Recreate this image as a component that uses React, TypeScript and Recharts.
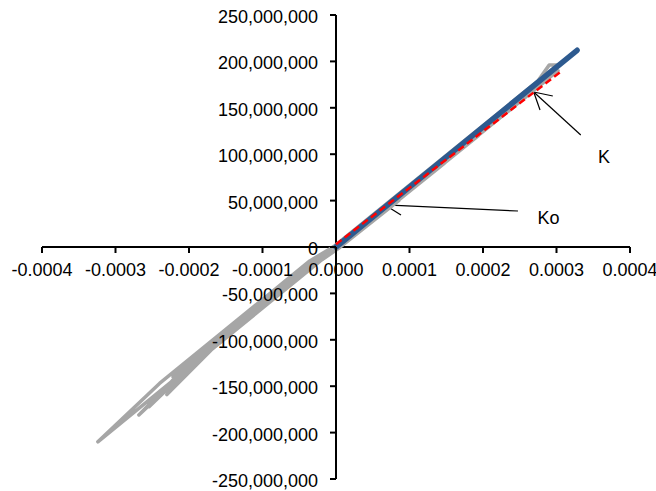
import React from 'react';
import { ScatterChart, Scatter, XAxis, YAxis, ReferenceLine, ReferenceDot } from 'recharts';

// Gray hysteresis loops (strain, stress)
const grayStrain = [
  0,
  0.000006, 0.0000854, 0.0000754, -0.000004, -0.0000352, -0.0000662, -0.0000814, -0.0000522, -0.0000212,
  0.000006, 0.0001473, 0.0001373, -0.000004, -0.0000327, -0.000107, -0.0001443, -0.0000985, -0.0000242,
  0.000006, 0.0001938, 0.0001838, -0.000004, -0.0000302, -0.000137, -0.0001888, -0.000129, -0.0000222,
  0.000006, 0.0002402, 0.0002302, -0.000004, -0.0000342, -0.0001627, -0.0002217, -0.0001537, -0.0000252,
  0.000006, 0.0002634, 0.0002534, -0.000004, -0.0000312, -0.0001798, -0.0002301, -0.0001698, -0.0000212,
  0.000006, 0.0002835, 0.0002735, -0.000004, -0.0000332, -0.0001958, -0.0002543, -0.0001858, -0.0000232,
  0.000006, 0.0003021, 0.0002921, -0.000004, -0.0000282, -0.0002016, -0.0002682, -0.0001956, -0.0000222,
  0.000006, 0.000301, 0.00029, 0.000272, -0.000004, -0.0000357, -0.0002401, -0.000324, -0.0002266, -0.0000222,
  0.000006,
];
const grayStress = [
  0,
  0, 50e6, 50e6, 0, -15e6, -35e6, -50e6, -35e6, -15e6,
  0, 90e6, 90e6, 0, -15e6, -63e6, -90e6, -63e6, -15e6,
  0, 120e6, 120e6, 0, -15e6, -84e6, -120e6, -84e6, -15e6,
  0, 150e6, 150e6, 0, -15e6, -98e6, -140e6, -98e6, -15e6,
  0, 165e6, 165e6, 0, -15e6, -111e6, -159e6, -111e6, -15e6,
  0, 178e6, 178e6, 0, -15e6, -120e6, -172e6, -120e6, -15e6,
  0, 190e6, 190e6, 0, -15e6, -127e6, -181e6, -127e6, -15e6,
  0, 196e6, 196e6, 176e6, 0, -15e6, -147e6, -210e6, -147e6, -15e6,
  0,
];

// K (secant stiffness) line
const kStrain = [0, 0.000328];
const kStress = [0, 212e6];

// Ko (initial stiffness) line
const koStrain = [0, 0.000306];
const koStress = [3e6, 189e6];

// Axis ticks
const xTicks = [-0.0004, -0.0003, -0.0002, -0.0001, 0, 0.0001, 0.0002, 0.0003, 0.0004];
const yTicks = [250e6, 200e6, 150e6, 100e6, 50e6, 0, -50e6, -100e6, -150e6, -200e6, -250e6];

// Annotations: label text, label position, arrow tail, arrow tip, barbs
const annLabels = ['Ko', 'K'];
const annLabelX = [0.000289, 0.0003646];
const annLabelY = [32e6, 97e6];
const arrowTailX = [0.0002476, 0.000333];
const arrowTailY = [38.8e6, 120.7e6];
const arrowTipX = [0.0000667, 0.000269];
const arrowTipY = [45.3e6, 167e6];
const barb1X = [0.0000884, 0.000295];
const barb1Y = [53.9e6, 162.7e6];
const barb2X = [0.0000884, 0.0002776];
const barb2Y = [34.5e6, 147.6e6];

const FONT = '"Liberation Sans", Arial, sans-serif';

const toPts = (xs: number[], ys: number[]) => xs.map((x, i) => ({ x, y: ys[i] }));
const grayData = toPts(grayStrain, grayStress);
const kData = toPts(kStrain, kStress);
const koData = toPts(koStrain, koStress);

const fmtX = (v: number) => v.toFixed(4);
const fmtY = (v: number) => {
  const s = Math.abs(v).toLocaleString('en-US');
  return v < 0 ? '-' + s : s;
};

const NoShape = () => <g />;

export default function App() {
  return (
    <div style={{ position: 'absolute', left: 0, top: 0, width: 656, height: 491, background: '#fff' }}>
      <ScatterChart width={656} height={491} margin={{ top: 15, right: 26, bottom: 12, left: 42 }}>
        <XAxis type="number" dataKey="x" domain={[-0.0004, 0.0004]} hide allowDataOverflow />
        <YAxis type="number" dataKey="y" domain={[-250e6, 250e6]} hide allowDataOverflow />
        <Scatter
          data={grayData}
          isAnimationActive={false}
          shape={NoShape}
          line={{ stroke: '#A6A6A6', strokeWidth: 3.5, strokeLinejoin: 'round' }}
          lineJointType="linear"
        />
        <Scatter
          data={kData}
          isAnimationActive={false}
          shape={NoShape}
          line={{ stroke: '#2D5A8F', strokeWidth: 5.5, strokeLinecap: 'round' }}
          lineJointType="linear"
        />
        <Scatter
          data={koData}
          isAnimationActive={false}
          shape={NoShape}
          line={{ stroke: '#FF0000', strokeWidth: 2.5, strokeDasharray: '7 4' }}
          lineJointType="linear"
        />
        <ReferenceLine x={0} stroke="#000" strokeWidth={2} />
        <ReferenceLine y={0} stroke="#000" strokeWidth={2} />
        {xTicks.map((t) => (
          <ReferenceDot
            key={'xt' + t}
            x={t}
            y={0}
            shape={(p: any) => (
              <g>
                <line x1={p.cx} y1={p.cy} x2={p.cx} y2={p.cy + 6} stroke="#000" strokeWidth={2} />
                <text x={p.cx} y={p.cy + 29} textAnchor="middle" fontSize={18} fontFamily={FONT} fill="#000">
                  {fmtX(t)}
                </text>
              </g>
            )}
          />
        ))}
        {yTicks.map((t) => (
          <ReferenceDot
            key={'yt' + t}
            x={0}
            y={t}
            shape={(p: any) => (
              <g>
                <line x1={p.cx - 6} y1={p.cy} x2={p.cx} y2={p.cy} stroke="#000" strokeWidth={2} />
                <text x={p.cx - 18} y={p.cy + 8} textAnchor="end" fontSize={18} fontFamily={FONT} fill="#000">
                  {fmtY(t)}
                </text>
              </g>
            )}
          />
        ))}
        {annLabels.map((lab, i) => (
          <ReferenceLine
            key={'a' + i}
            segment={[{ x: arrowTailX[i], y: arrowTailY[i] }, { x: arrowTipX[i], y: arrowTipY[i] }]}
            stroke="#000"
            strokeWidth={1.2}
          />
        ))}
        {annLabels.map((lab, i) => (
          <ReferenceLine
            key={'b1' + i}
            segment={[{ x: arrowTipX[i], y: arrowTipY[i] }, { x: barb1X[i], y: barb1Y[i] }]}
            stroke="#000"
            strokeWidth={1.2}
          />
        ))}
        {annLabels.map((lab, i) => (
          <ReferenceLine
            key={'b2' + i}
            segment={[{ x: arrowTipX[i], y: arrowTipY[i] }, { x: barb2X[i], y: barb2Y[i] }]}
            stroke="#000"
            strokeWidth={1.2}
          />
        ))}
        {annLabels.map((lab, i) => (
          <ReferenceDot
            key={'l' + i}
            x={annLabelX[i]}
            y={annLabelY[i]}
            shape={(p: any) => (
              <text x={p.cx} y={p.cy + 6.5} textAnchor="middle" fontSize={18} fontFamily={FONT} fill="#000">
                {lab}
              </text>
            )}
          />
        ))}
      </ScatterChart>
    </div>
  );
}
